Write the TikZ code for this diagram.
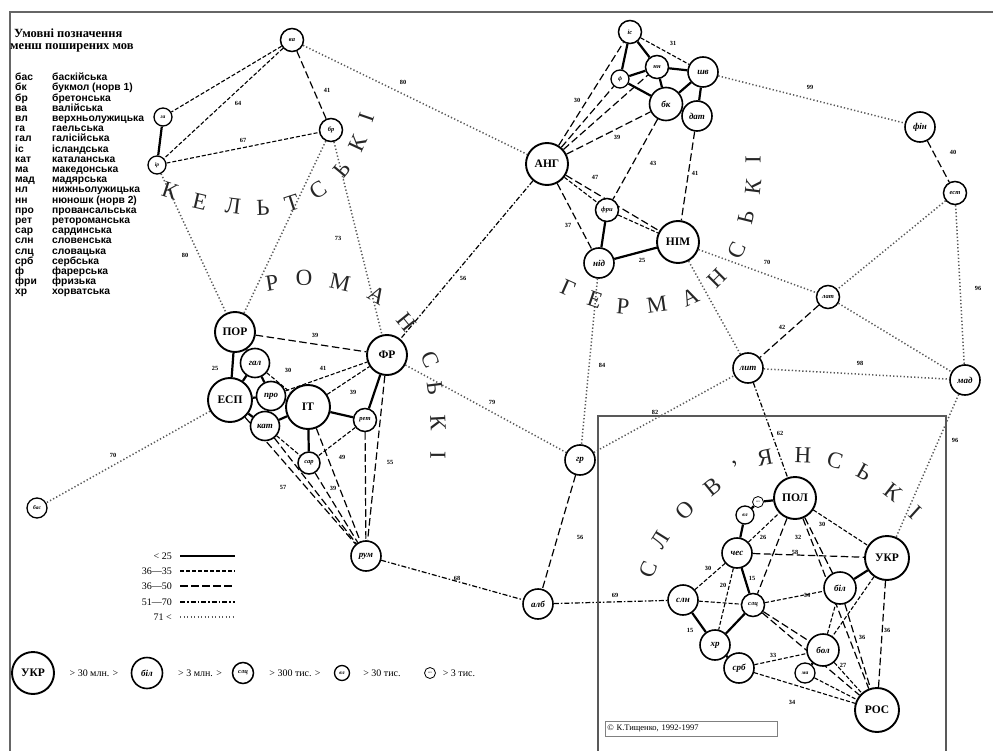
\documentclass[tikz,border=0pt]{standalone}
\usepackage{fontspec}
\setmainfont{Liberation Serif}
\newfontfamily\lsans{Liberation Sans}
\usetikzlibrary{backgrounds}
\begin{document}
\begin{tikzpicture}[x=1pt,y=-1pt,
 lang/.style={circle,draw=black,fill=white,inner sep=0pt},
 big/.style={lang,minimum size=42pt,line width=1.9pt,font=\bfseries\fontsize{11.5}{11.5}\selectfont},
 med/.style={lang,minimum size=30pt,line width=1.6pt,font=\bfseries\itshape\fontsize{9}{9}\selectfont},
 sml/.style={lang,minimum size=23pt,line width=1.5pt,font=\bfseries\itshape\fontsize{6.5}{6.5}\selectfont},
 xs/.style={lang,minimum size=18pt,line width=1.3pt,font=\bfseries\itshape\fontsize{5.5}{5.5}\selectfont},
 tn/.style={lang,minimum size=11pt,line width=0.8pt,font=\fontsize{3}{3}\selectfont},
 lA/.style={line width=2.2pt},
 lB/.style={line width=1.1pt,dash pattern=on 4pt off 2pt},
 lC/.style={line width=1.2pt,dash pattern=on 7.5pt off 3.5pt},
 lD/.style={line width=1.2pt,dash pattern=on 5pt off 2pt on 1.5pt off 2pt},
 lE/.style={line width=1.5pt,dash pattern=on 1.3pt off 2.2pt,black!65},
 lbl/.style={font=\bfseries\fontsize{6.3}{6.3}\selectfont,inner sep=0.5pt},
 glyph/.style={font=\fontsize{23}{23}\selectfont,inner sep=0pt,text=black!85},
 legab/.style={font=\lsans\bfseries\fontsize{10.3}{10}\selectfont,anchor=base west,inner sep=0pt},
 legtx/.style={font=\fontsize{10}{10}\selectfont,inner sep=0pt},
]
\useasboundingbox (0,0) rectangle (993,751);
% frame
\draw[black!60,line width=1.2pt] (10,751) -- (10,12) -- (993,12);
\draw[black!65,line width=2.4pt] (598,751) -- (598,416) -- (946,416) -- (946,751);

% ---------- nodes ----------
% Celtic
\node[sml] (va) at (292,40) {ва};
\node[xs] (ga) at (163,117) {га};
\node[xs] (ir) at (157,165) {ір};
\node[sml] (br) at (331,130) {бр};
% Germanic
\node[big] (ang) at (547,164) {АНГ};
\node[sml] (is) at (630,32) {іс};
\node[sml] (nn) at (657,67) {нн};
\node[xs] (f) at (620,79) {ф};
\node[med] (shv) at (703,72) {шв};
\node[med,minimum size=33pt] (bk) at (666,104) {бк};
\node[med] (dat) at (697,116) {дат};
\node[sml] (fry) at (607,210) {фри};
\node[med] (nid) at (599,263) {нід};
\node[big] (nim) at (678,242) {НІМ};
% Baltic, Finnic etc.
\node[med] (fin) at (920,127) {фін};
\node[sml] (est) at (955,193) {ест};
\node[sml] (lat) at (828,297) {лат};
\node[med] (lit) at (748,368) {лит};
\node[med] (mad) at (965,380) {мад};
% Romance
\node[big,minimum size=40pt] (por) at (235,332) {ПОР};
\node[med,minimum size=29pt] (gal) at (255,363) {гал};
\node[big,minimum size=44pt] (esp) at (230,400) {ЕСП};
\node[med,minimum size=29pt] (pro) at (271,396) {про};
\node[med,minimum size=29pt] (kat) at (265,426) {кат};
\node[big,minimum size=44pt] (it) at (308,407) {ІТ};
\node[sml] (ret) at (365,420) {рет};
\node[sml,minimum size=22pt] (sar) at (309,463) {сар};
\node[big,minimum size=40pt] (fr) at (387,355) {ФР};
\node[med] (rum) at (366,556) {рум};
\node[xs,minimum size=20pt] (bas) at (37,508) {бас};
% others
\node[med] (gr) at (580,460) {гр};
\node[med] (alb) at (538,604) {алб};
% Slavic
\node[big] (pol) at (795,498) {ПОЛ};
\node[tn] (nl) at (758,502) {нл};
\node[xs] (vl) at (745,515) {вл};
\node[med] (ches) at (737,553) {чес};
\node[big,minimum size=44pt] (ukr) at (887,558) {УКР};
\node[med,minimum size=32pt] (bil) at (840,588) {біл};
\node[med] (sln) at (683,600) {слн};
\node[sml] (slc) at (753,605) {слц};
\node[med] (hr) at (715,645) {хр};
\node[med,minimum size=32pt] (bol) at (823,650) {бол};
\node[med] (srb) at (739,668) {срб};
\node[xs,minimum size=20pt] (ma) at (805,673) {ма};
\node[big,minimum size=44pt] (ros) at (877,710) {РОС};

% ---------- connectors ----------
\begin{scope}[on background layer]
\foreach \a/\b in {ga/ir,is/f,is/nn,f/nn,nn/shv,f/bk,nn/bk,shv/bk,shv/dat,bk/dat,fry/nid,nid/nim,
  por/esp,por/gal,gal/esp,gal/pro,esp/pro,esp/kat,pro/kat,pro/it,kat/it,it/ret,fr/ret,it/sar,
  nl/pol,vl/nl,vl/ches,ches/slc,sln/hr,hr/slc,hr/srb,bol/ma,bil/ukr}
  \draw[lA] (\a) -- (\b);
\foreach \a/\b in {va/ga,va/ir,ir/br,is/shv,ang/fry,fry/nim,gal/it,pro/fr,it/fr,kat/sar,ret/sar,
  ches/pol,pol/ukr,ches/sln,ches/hr,sln/slc,slc/bil,srb/bol,srb/ros,bol/bil,bol/ros,ma/ros,ukr/bol}
  \draw[lB] (\a) -- (\b);
\foreach \a/\b in {va/br,ang/is,ang/f,ang/nn,ang/bk,bk/fry,dat/nim,ang/nim,ang/nid,fin/est,lat/lit,
  gr/alb,por/fr,esp/rum,kat/rum,sar/rum,it/rum,ret/rum,fr/rum,
  ches/ukr,pol/slc,pol/bil,pol/ros,slc/bol,slc/ros,bil/ros,ukr/ros}
  \draw[lC] (\a) -- (\b);
\foreach \a/\b in {lit/pol,ang/fr,rum/alb,alb/sln}
  \draw[lD] (\a) -- (\b);
\foreach \a/\b in {va/ang,ir/por,br/por,br/fr,shv/fin,est/lat,est/mad,nim/lat,lat/mad,lit/mad,
  nim/lit,mad/ukr,gr/lit,nid/gr,fr/gr,esp/bas}
  \draw[lE] (\a) -- (\b);
\end{scope}

% ---------- connector labels ----------
\foreach \x/\y/\t [count=\i] in {238/103/64,327/90/41,243/140/67,403/82/80,185/255/80,338/238/73,
  577/100/30,617/137/39,673/43/31,653/163/43,695/173/41,595/177/47,568/225/37,642/260/25,
  810/87/99,953/152/40,978/288/96,767/262/70,782/327/42,860/363/98,780/433/62,955/440/96,
  655/412/82,602/365/84,492/402/79,580/537/56,463/278/56,457/578/68,615/595/69,113/455/70,
  215/368/25,315/335/39,288/370/30,323/368/41,353/392/39,342/457/49,283/487/57,333/488/39,
  390/462/55,763/537/26,798/537/32,795/552/58,822/524/30,752/578/15,708/568/30,723/585/20,
  690/630/15,807/595/34,773/655/33,792/702/34,843/665/27,862/637/36,887/630/36}
  \node[lbl] (lab\i) at (\x,\y) {\t};

% ---------- group names ----------
\foreach \x/\y/\r/\l [count=\i] in {170/191/-18/К,200/202/-13/Е,233/206/-7/Л,263/208/2/Ь,
  292/203/18/Т,318/190/33/С,342/170/50/Ь,358/143/65/К,367/117/71/І}
  \node[glyph,rotate=\r] (kel\i) at (\x,\y) {\l};
\foreach \x/\y/\r/\l [count=\i] in {272/283/9/Р,304/278/1/О,340/282/-13/М,377/295/-31/А,
  407/322/-51/Н,430/360/-67/С,435/388/-83/Ь,438/423/-87/К,438/455/-90/І}
  \node[glyph,rotate=\r] (rom\i) at (\x,\y) {\l};
\foreach \x/\y/\r/\l [count=\i] in {568/288/-24/Г,595/300/-19/Е,623/307/-5/Р,657/305/8/М,
  690/297/24/А,717/278/45/Н,737/250/65/С,746/217/76/Ь,753/187/83/К,753/160/90/І}
  \node[glyph,rotate=\r] (ger\i) at (\x,\y) {\l};
\foreach \x/\y/\r/\l [count=\i] in {648/570/68/С,660/540/58/Л,685/510/45/О,713/487/39/В,
  737/468/29/’,765/458/11/Я,803/455/-2/Н,835/460/-16/С,864/472/-29/Ь,893/492/-38/К,915/512/-42/І}
  \node[glyph,rotate=\r] (slv\i) at (\x,\y) {\l};

% ---------- copyright ----------
\node[draw=black!50,line width=0.6pt,fill=white,anchor=west,text width=168pt,align=left,
  minimum height=15pt,inner sep=2pt,font=\fontsize{8.5}{8.5}\selectfont] (copy) at (605,729) {© К.Тищенко, 1992-1997};

% ---------- abbreviation legend ----------
\node[font=\bfseries\fontsize{12.5}{12}\selectfont,anchor=base west,inner sep=0pt] (t1) at (14,38) {Умовні позначення};
\node[font=\bfseries\fontsize{12.5}{12}\selectfont,anchor=base west,inner sep=0pt] (t2) at (10,50) {менш поширених мов};
\foreach \a/\b [count=\i] in {бас/баскійська,бк/букмол (норв 1),бр/бретонська,ва/валійська,
  вл/верхньолужицька,га/гаельська,гал/галісійська,іс/ісландська,кат/каталанська,ма/македонська,
  мад/мадярська,нл/нижньолужицька,нн/нюношк (норв 2),про/провансальська,рет/ретороманська,
  сар/сардинська,слн/словенська,слц/словацька,срб/сербська,ф/фарерська,фри/фризька,хр/хорватська}
  {\node[legab] (ab\i) at (15,{70.5+10.2*\i}) {\a};
   \node[legab] (nm\i) at (52,{70.5+10.2*\i}) {\b};}

% ---------- line legend ----------
\foreach \y/\t/\s [count=\i] in {556/< 25/lA,571/36—35/lB,586/36—50/lC,602/51—70/lD,617/71 </lE}
  {\node[legtx,anchor=east] (ll\i) at (172,\y) {\t};
   \coordinate (la\i) at (180,\y); \coordinate (lb\i) at (235,\y);
   \draw[\s] (la\i) -- (lb\i);}

% ---------- size legend ----------
\node[big,minimum size=42pt] (su) at (33,673) {УКР};
\node[legtx] (s1) at (94,673) {>\ 30 млн. >};
\node[med,minimum size=31pt] (sb) at (147,673) {біл};
\node[legtx] (s2) at (200,673) {>\ 3 млн. >};
\node[sml,minimum size=21pt] (sc) at (243,673) {слц};
\node[legtx] (s3) at (295,673) {>\ 300 тис. >};
\node[xs,minimum size=15pt] (sv) at (342,673) {вл};
\node[legtx] (s4) at (382,673) {>\ 30 тис.};
\node[tn] (st) at (430,673) {нл};
\node[legtx] (s5) at (459,673) {>\ 3 тис.};
\end{tikzpicture}
\end{document}
